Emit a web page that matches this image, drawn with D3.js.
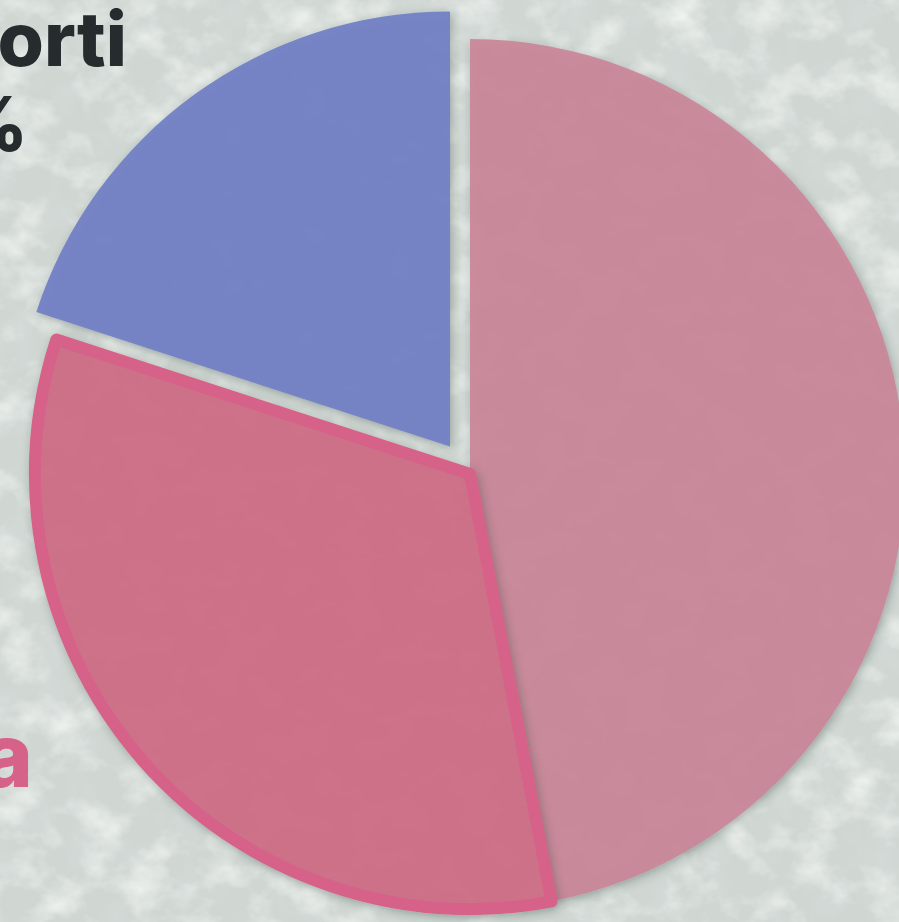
<!DOCTYPE html>
<html>
<head>
<meta charset="utf-8">
<script src="https://cdn.jsdelivr.net/npm/d3@7"></script>
<style>
    html, body { margin: 0; padding: 0; overflow: hidden; background: #d0d7d3; }
    svg { display: block; }
</style>
</head>
<body>
<div id="chart"></div>
<script>
// slice values (percent), drawn clockwise from 12 o'clock
const sliceNames = ["", "a", "orti"];
const sliceValues = [47, 33, 20];
const sliceColors = ["#c9889a", "#cf6f87", "#7281c5"];
const sliceExplode = [0, 0, 34];        // blue slice pulled out
const sliceHighlighted = [false, true, false];

const width = 899, height = 922;
const cx = 470, cy = 474, radius = 435;

const svg = d3.select("#chart").append("svg")
    .attr("width", width)
    .attr("height", height);

const defs = svg.append("defs");

// stone-like background texture
const light = defs.append("filter").attr("id", "stoneLight")
    .attr("x", 0).attr("y", 0).attr("width", "100%").attr("height", "100%");
light.append("feTurbulence")
    .attr("type", "fractalNoise")
    .attr("baseFrequency", "0.024 0.03")
    .attr("numOctaves", 4)
    .attr("seed", 7);
light.append("feColorMatrix")
    .attr("type", "matrix")
    .attr("values", "0 0 0 0 0.93  0 0 0 0 0.95  0 0 0 0 0.93  1.7 0 0 0 -0.76");

const dark = defs.append("filter").attr("id", "stoneDark")
    .attr("x", 0).attr("y", 0).attr("width", "100%").attr("height", "100%");
dark.append("feTurbulence")
    .attr("type", "fractalNoise")
    .attr("baseFrequency", "0.03 0.025")
    .attr("numOctaves", 3)
    .attr("seed", 21);
dark.append("feColorMatrix")
    .attr("type", "matrix")
    .attr("values", "0 0 0 0 0.66  0 0 0 0 0.71  0 0 0 0 0.70  0 1.5 0 0 -0.72");

const shadow = defs.append("filter").attr("id", "sliceShadow")
    .attr("x", "-10%").attr("y", "-10%").attr("width", "120%").attr("height", "120%");
shadow.append("feDropShadow")
    .attr("dx", 2).attr("dy", 3)
    .attr("stdDeviation", 5)
    .attr("flood-color", "#2b3a33")
    .attr("flood-opacity", 0.35);

svg.append("rect").attr("width", width).attr("height", height).attr("fill", "#d0d7d3");
svg.append("rect").attr("width", width).attr("height", height).attr("filter", "url(#stoneDark)");
svg.append("rect").attr("width", width).attr("height", height).attr("filter", "url(#stoneLight)");

const pie = d3.pie().sort(null).value(d => d);
const arc = d3.arc().innerRadius(0).outerRadius(radius);
const arcs = pie(sliceValues).map((d, i) => ({ ...d, index: i }));

// highlighted slice drawn last so its outline sits on top
const drawOrder = arcs.slice().sort((a, b) => sliceHighlighted[a.index] - sliceHighlighted[b.index]);

const g = svg.append("g").attr("transform", `translate(${cx},${cy})`);

g.selectAll("path")
    .data(drawOrder)
    .enter()
    .append("path")
    .attr("d", arc)
    .attr("transform", d => {
        const mid = (d.startAngle + d.endAngle) / 2;
        const off = sliceExplode[d.index];
        return `translate(${off * Math.sin(mid)},${-off * Math.cos(mid)})`;
    })
    .attr("fill", d => sliceColors[d.index])
    .attr("fill-opacity", 0.95)
    .attr("stroke", d => sliceHighlighted[d.index] ? "#d6628a" : "none")
    .attr("stroke-width", d => sliceHighlighted[d.index] ? 12 : 0)
    .attr("stroke-linejoin", "round")
    .attr("filter", "url(#sliceShadow)");

// labels (run off the left edge of the picture)
const total = d3.sum(sliceValues);
const labelStyle = [
    null,
    { x: 33, y: 787, size: 88, color: "#d6628a", pct: false },
    { x: 127, y: 66, size: 75, color: "#262c2e", pct: true }
];

labelStyle.forEach((s, i) => {
    if (!s) return;
    svg.append("text")
        .attr("x", s.x)
        .attr("y", s.y)
        .attr("text-anchor", "end")
        .style("font-family", "Inter, 'Open Sans', sans-serif")
        .style("font-weight", 800)
        .style("font-size", s.size + "px")
        .attr("fill", s.color)
        .text(sliceNames[i]);
    if (s.pct) {
        svg.append("text")
            .attr("x", 28)
            .attr("y", s.y + 85)
            .attr("text-anchor", "end")
            .style("font-family", "Inter, 'Open Sans', sans-serif")
            .style("font-weight", 800)
            .style("font-size", s.size + "px")
            .attr("fill", s.color)
            .text(Math.round(sliceValues[i] / total * 100) + "%");
    }
});
</script>
</body>
</html>
